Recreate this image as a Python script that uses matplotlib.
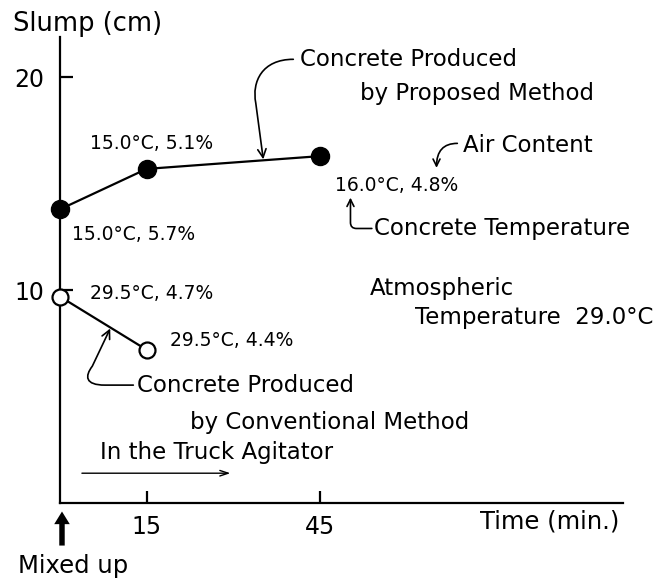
import matplotlib
matplotlib.use("Agg")
import matplotlib.pyplot as plt
from matplotlib.patches import FancyArrowPatch
from matplotlib.path import Path

# slump vs. time after mixing
proposed_time = [0, 15, 45]
proposed_slump = [13.8, 15.7, 16.3]
proposed_labels = ["15.0°C, 5.7%", "15.0°C, 5.1%", "16.0°C, 4.8%"]

conventional_time = [0, 15]
conventional_slump = [9.7, 7.2]
conventional_labels = ["29.5°C, 4.7%", "29.5°C, 4.4%"]

x_ticks = [15, 45]
y_ticks = [10, 20]

LW = 1.6
NUM_FS = 13.5
TXT_FS = 16.5

fig = plt.figure(figsize=(6.54, 5.84), dpi=100)
ax = fig.add_axes([0.0917, 0.1387, 0.861, 0.798])
ax.set_xlim(0, 97.5)
ax.set_ylim(0, 21.9)

for side in ("top", "right"):
    ax.spines[side].set_visible(False)
for side in ("left", "bottom"):
    ax.spines[side].set_linewidth(LW)

ax.set_xticks(x_ticks)
ax.set_yticks(y_ticks)
ax.tick_params(direction="in", length=9, width=LW, labelsize=17)
ax.tick_params(axis="x", pad=9)
ax.tick_params(axis="y", pad=11)

ax.plot(proposed_time, proposed_slump, color="black", lw=LW, marker="o",
        ms=13, mfc="black", mec="black", clip_on=False, zorder=3)
ax.plot(conventional_time, conventional_slump, color="black", lw=LW, marker="o",
        ms=11.5, mfc="white", mec="black", mew=LW, clip_on=False, zorder=3)

# point labels (temperature, air content)
label_pos = [(2.1, 12.6), (5.2, 16.9), (47.7, 14.9)]
for (x, y), s in zip(label_pos, proposed_labels):
    ax.text(x, y, s, fontsize=NUM_FS, ha="left", va="center")
label_pos = [(5.2, 9.85), (19.1, 7.65)]
for (x, y), s in zip(label_pos, conventional_labels):
    ax.text(x, y, s, fontsize=NUM_FS, ha="left", va="center")

ax.text(41.6, 20.85, "Concrete Produced", fontsize=TXT_FS, ha="left", va="center")
ax.text(52.0, 19.25, "by Proposed Method", fontsize=TXT_FS, ha="left", va="center")
ax.text(69.7, 16.8, "Air Content", fontsize=TXT_FS, ha="left", va="center")
ax.text(54.3, 12.9, "Concrete Temperature", fontsize=TXT_FS, ha="left", va="center")
ax.text(53.7, 10.1, "Atmospheric", fontsize=TXT_FS, ha="left", va="center")
ax.text(61.5, 8.7, "Temperature  29.0°C", fontsize=TXT_FS, ha="left", va="center")
ax.text(13.3, 5.54, "Concrete Produced", fontsize=TXT_FS, ha="left", va="center")
ax.text(22.5, 3.76, "by Conventional Method", fontsize=TXT_FS, ha="left", va="center")
ax.text(6.9, 2.35, "In the Truck Agitator", fontsize=TXT_FS, ha="left", va="center")

# curved leader arrows
head = dict(arrowstyle="->,head_length=0.5,head_width=0.25", lw=1.2, color="black",
            shrinkA=0, shrinkB=0)
proposed_leader = Path(
    [(40.4, 20.85), (35.0, 20.85), (33.2, 19.8), (33.9, 18.8), (35.2, 16.15)],
    [Path.MOVETO, Path.CURVE4, Path.CURVE4, Path.CURVE4, Path.LINETO],
)
ax.add_patch(FancyArrowPatch(path=proposed_leader, mutation_scale=12, **head))
conventional_leader = Path(
    [(12.7, 5.54), (7.8, 5.54), (4.3, 5.54), (4.3, 5.96), (5.6, 6.43), (8.7, 8.2)],
    [Path.MOVETO, Path.LINETO, Path.CURVE4, Path.CURVE4, Path.CURVE4, Path.LINETO],
)
ax.add_patch(FancyArrowPatch(path=conventional_leader, mutation_scale=12, **head))

ax.annotate("", xy=(65.2, 15.75), xytext=(68.8, 16.9),
            arrowprops=dict(connectionstyle="angle3,angleA=0,angleB=90", **head))
ax.annotate("", xy=(50.3, 14.35), xytext=(54.0, 12.9),
            arrowprops=dict(connectionstyle="angle,angleA=0,angleB=90,rad=6", **head))

ax.annotate("", xy=(29.5, 1.4), xytext=(3.8, 1.4),
            arrowprops=dict(arrowstyle="->,head_length=0.6,head_width=0.2", lw=1.0,
                            color="black", shrinkA=0, shrinkB=0))

# mixed-up marker below the origin
ax.annotate("", xy=(0.35, -0.4), xytext=(0.35, -2.0), annotation_clip=False,
            arrowprops=dict(arrowstyle="simple,head_length=0.65,head_width=0.8,tail_width=0.28",
                            mutation_scale=14, color="black", lw=0, shrinkA=0, shrinkB=0))
ax.text(-7.3, -2.95, "Mixed up", fontsize=17.5, ha="left", va="center", clip_on=False)
ax.text(72.8, -0.85, "Time (min.)", fontsize=17.5, ha="left", va="center", clip_on=False)

fig.text(13 / 654, 1 - 24 / 584, "Slump (cm)", fontsize=18.5, ha="left", va="center")

fig.savefig("out.png", dpi=100)
